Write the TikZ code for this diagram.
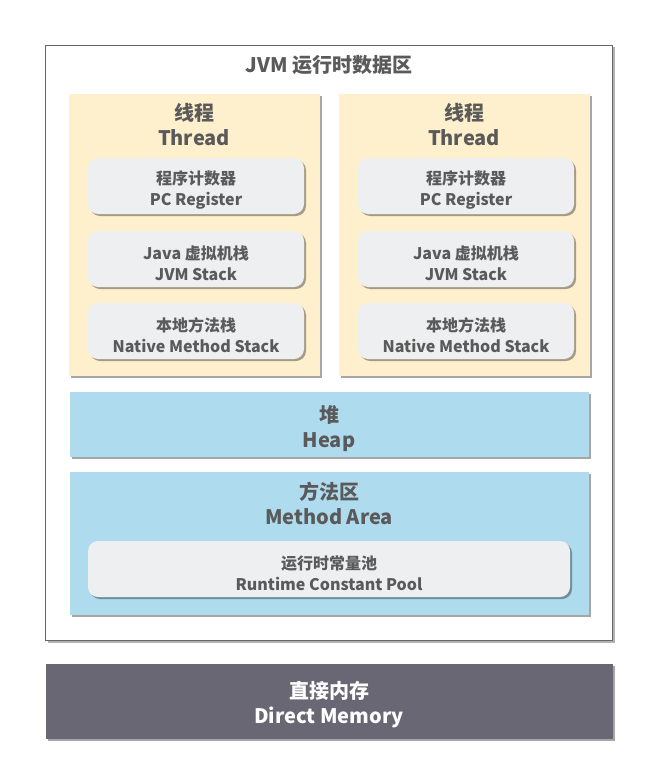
\documentclass[tikz,border=0pt]{standalone}
\usepackage{fontspec}
\setmainfont{Noto Sans CJK SC}
\usetikzlibrary{positioning, shadows}
\definecolor{txtgray}{HTML}{5A5A5A}
\definecolor{framegray}{HTML}{666666}
\definecolor{threadfill}{HTML}{FEF0CD}
\definecolor{heapfill}{HTML}{AEDBEE}
\definecolor{stackfill}{HTML}{EEEFF1}
\definecolor{memfill}{HTML}{6A6775}
% strut that pushes a two-line label a little down in its box
\newcommand{\lowstrut}[1]{\rule{0pt}{#1}}

\begin{document}
\begin{tikzpicture}[x=1pt, y=-1pt]
    % Setup the styles for the areas
        \tikzset{area style/.style={rectangle, inner sep=0pt,
                                    minimum width=#1,
                                    drop shadow={shadow xshift=2pt, shadow yshift=-2pt,
                                                 fill=black, opacity=0.35}},
                 thread style/.style={area style=251pt, minimum height=282pt,
                                      fill=threadfill},
                 region style/.style={area style=519pt, fill=heapfill},
                 stack style/.style={area style=#1, minimum height=56pt,
                                     rounded corners=10pt, fill=stackfill,
                                     align=center, text=txtgray,
                                     font=\fontsize{16}{21}\selectfont\bfseries},
                 big label/.style={align=center, text=txtgray, inner sep=0pt,
                                   font=\fontsize{20}{25}\selectfont\bfseries}}
        \useasboundingbox (0,0) rectangle (658,784);

        % The JVM run-time data area
        \node[rectangle, draw=framegray, line width=1.5pt, fill=white,
              minimum width=567pt, minimum height=595pt,
              drop shadow={shadow xshift=2pt, shadow yshift=-2pt,
                           fill=black, opacity=0.3}]
            at (329, 343) (jvm) {};
        \node[big label] at (329, 65) (jvm title) {JVM 运行时数据区};

        % Two threads
        \node[thread style] at (194, 235) (thread1) {};
        \node[thread style] at (464, 235) (thread2) {};
        \node[big label] at (194, 125) (thread1 label) {线程\\Thread};
        \node[big label] at (464, 125) (thread2 label) {线程\\Thread};

        \node[stack style=216pt] at (196, 186) (pc1)     {\lowstrut{22pt}程序计数器\\PC Register};
        \node[stack style=216pt] at (196, 259) (jvms1)   {\lowstrut{22pt}Java 虚拟机栈\\JVM Stack};
        \node[stack style=216pt] at (196, 331) (native1) {\lowstrut{22pt}本地方法栈\\Native Method Stack};
        \node[stack style=216pt] at (466, 186) (pc2)     {\lowstrut{22pt}程序计数器\\PC Register};
        \node[stack style=216pt] at (466, 259) (jvms2)   {\lowstrut{22pt}Java 虚拟机栈\\JVM Stack};
        \node[stack style=216pt] at (466, 331) (native2) {\lowstrut{22pt}本地方法栈\\Native Method Stack};

        % Shared areas
        \node[region style, minimum height=65pt] at (329, 424) (heap) {};
        \node[big label] at (329, 429) (heap label) {堆\\Heap};
        \node[region style, minimum height=143pt] at (329, 543.5) (method) {};
        \node[big label] at (329, 503) (method label) {方法区\\Method Area};
        \node[stack style=482pt] at (329, 569) (pool) {\lowstrut{22pt}运行时常量池\\Runtime Constant Pool};

        % Direct memory
        \node[area style=567pt, minimum height=75pt, fill=memfill,
              text=white, align=center,
              font=\fontsize{20}{25}\selectfont\bfseries]
            at (329, 701) (direct) {\lowstrut{25pt}直接内存\\Direct Memory};
\end{tikzpicture}
\end{document}
